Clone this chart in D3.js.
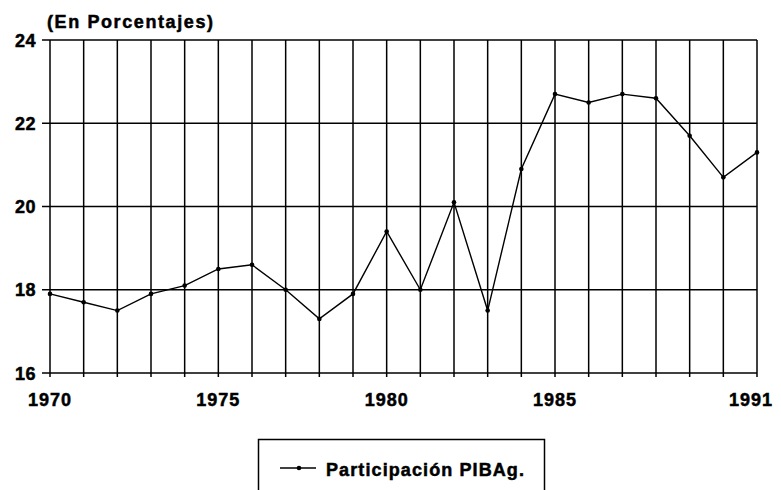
<!DOCTYPE html>
<html>
<head>
<meta charset="utf-8">
<script src="https://cdn.jsdelivr.net/npm/d3@7"></script>
<style>
  body { margin: 0; background: #fff; }
  text { font-family: "Liberation Sans", Arial, sans-serif; font-weight: bold; fill: #000;
         stroke: #000; stroke-width: 0.5px; }
</style>
</head>
<body>
<svg id="chart" width="781" height="490"></svg>
<script>
const width = 781, height = 490;

const years = d3.range(1970, 1992);
const values = [17.9, 17.7, 17.5, 17.9, 18.1, 18.5, 18.6, 18.0, 17.3, 17.9, 19.4,
                18.0, 20.1, 17.5, 20.9, 22.7, 22.5, 22.7, 22.6, 21.7, 20.7, 21.3];
const yTicks = [16, 18, 20, 22, 24];
const xLabels = [1970, 1975, 1980, 1985, 1991];
const seriesName = "Participación PIBAg.";
const unitLabel = "(En Porcentajes)";

const margin = {left: 50, right: 24, top: 40, bottom: 117};

const svg = d3.select("#chart");

const x = d3.scaleLinear()
    .domain([1970, 1991])
    .range([margin.left, width - margin.right]);

const y = d3.scaleLinear()
    .domain([16, 24])
    .range([height - margin.bottom, margin.top]);

// vertical grid, one per year, with a small tick below the axis
svg.append("g")
    .selectAll("line")
    .data(years)
    .join("line")
    .attr("x1", d => x(d)).attr("x2", d => x(d))
    .attr("y1", y(24)).attr("y2", y(16) + 4)
    .attr("stroke", "#000")
    .attr("stroke-width", 1.5);

// horizontal grid, with a small tick left of the axis
svg.append("g")
    .selectAll("line")
    .data(yTicks)
    .join("line")
    .attr("x1", x(1970) - 8).attr("x2", x(1991))
    .attr("y1", d => y(d)).attr("y2", d => y(d))
    .attr("stroke", "#000")
    .attr("stroke-width", 1.5);

// y labels
svg.append("g")
    .selectAll("text")
    .data(yTicks)
    .join("text")
    .attr("x", x(1970) - 14)
    .attr("y", d => y(d) + 6.5)
    .attr("text-anchor", "end")
    .attr("font-size", 18)
    .attr("letter-spacing", 0.5)
    .text(d => d);

// x labels
svg.append("g")
    .selectAll("text")
    .data(xLabels)
    .join("text")
    .attr("x", d => x(d))
    .attr("y", y(16) + 33)
    .attr("text-anchor", (d, i) => i == 0 ? "start" : i == xLabels.length - 1 ? "end" : "middle")
    .attr("dx", (d, i) => i == 0 ? -22 : i == xLabels.length - 1 ? 16 : 0)
    .attr("font-size", 18)
    .attr("letter-spacing", 1)
    .text(d => d);

// unit label
svg.append("text")
    .attr("x", 47)
    .attr("y", 28)
    .attr("font-size", 18)
    .attr("letter-spacing", 1.6)
    .text(unitLabel);

// series line
const pts = years.map((yr, i) => [yr, values[i]]);
const line = d3.line()
    .x(d => x(d[0]))
    .y(d => y(d[1]));

svg.append("path")
    .datum(pts)
    .attr("d", line)
    .attr("fill", "none")
    .attr("stroke", "#000")
    .attr("stroke-width", 1.4);

svg.append("g")
    .selectAll("circle")
    .data(pts)
    .join("circle")
    .attr("cx", d => x(d[0]))
    .attr("cy", d => y(d[1]))
    .attr("r", 2.3)
    .attr("fill", "#000");

// legend box (runs off the bottom edge)
const legend = svg.append("g");
legend.append("rect")
    .attr("x", 258.5).attr("y", 439.5)
    .attr("width", 286).attr("height", 80)
    .attr("fill", "none")
    .attr("stroke", "#000")
    .attr("stroke-width", 1.5);
legend.append("line")
    .attr("x1", 280).attr("x2", 316)
    .attr("y1", 468).attr("y2", 468)
    .attr("stroke", "#000")
    .attr("stroke-width", 1.4);
legend.append("circle")
    .attr("cx", 299).attr("cy", 468)
    .attr("r", 2.3)
    .attr("fill", "#000");
legend.append("text")
    .attr("x", 326).attr("y", 476)
    .attr("font-size", 18)
    .attr("letter-spacing", 1.1)
    .text(seriesName);
</script>
</body>
</html>
